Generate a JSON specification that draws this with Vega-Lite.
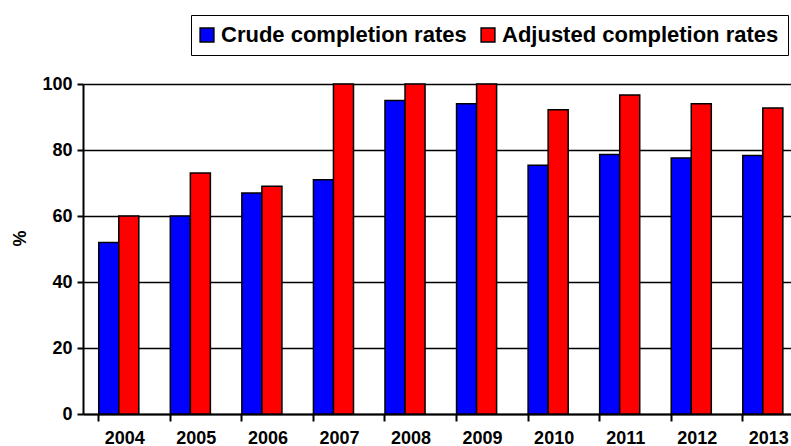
{
  "$schema": "https://vega.github.io/schema/vega-lite/v6.json",
  "autosize": {"type": "none"},
  "width": 708,
  "height": 330,
  "padding": {"left": 83, "top": 84, "right": 0, "bottom": 32},
  "background": "white",
  "config": {
    "view": {"stroke": null},
    "font": "Liberation Sans",
    "axis": {
      "labelFont": "Liberation Sans",
      "labelFontWeight": "bold",
      "labelFontSize": 18,
      "labelColor": "black",
      "domainColor": "black",
      "domainWidth": 2,
      "tickColor": "black",
      "tickWidth": 2,
      "titleFont": "Liberation Sans",
      "titleFontWeight": "bold",
      "titleColor": "black"
    }
  },
  "data": {
    "values": [
      {"year": "2004", "series": "Crude completion rates", "value": 52},
      {"year": "2004", "series": "Adjusted completion rates", "value": 60},
      {"year": "2005", "series": "Crude completion rates", "value": 60},
      {"year": "2005", "series": "Adjusted completion rates", "value": 73},
      {"year": "2006", "series": "Crude completion rates", "value": 67},
      {"year": "2006", "series": "Adjusted completion rates", "value": 69},
      {"year": "2007", "series": "Crude completion rates", "value": 71},
      {"year": "2007", "series": "Adjusted completion rates", "value": 100},
      {"year": "2008", "series": "Crude completion rates", "value": 95},
      {"year": "2008", "series": "Adjusted completion rates", "value": 100},
      {"year": "2009", "series": "Crude completion rates", "value": 94},
      {"year": "2009", "series": "Adjusted completion rates", "value": 100},
      {"year": "2010", "series": "Crude completion rates", "value": 75.4},
      {"year": "2010", "series": "Adjusted completion rates", "value": 92.2},
      {"year": "2011", "series": "Crude completion rates", "value": 78.6},
      {"year": "2011", "series": "Adjusted completion rates", "value": 96.7},
      {"year": "2012", "series": "Crude completion rates", "value": 77.6},
      {"year": "2012", "series": "Adjusted completion rates", "value": 94},
      {"year": "2013", "series": "Crude completion rates", "value": 78.3},
      {"year": "2013", "series": "Adjusted completion rates", "value": 92.7}
    ]
  },
  "mark": {"type": "bar", "stroke": "black", "strokeWidth": 1.5, "opacity": 1},
  "encoding": {
    "x": {
      "field": "year",
      "type": "nominal",
      "sort": null,
      "scale": {"range": [0, 715.6], "paddingInner": 0.44, "paddingOuter": 0.22},
      "axis": {
        "title": null,
        "labelAngle": 0,
        "bandPosition": 0,
        "labelOffset": 6,
        "tickSize": 7,
        "labelPadding": 8,
        "grid": false
      }
    },
    "xOffset": {
      "field": "series",
      "type": "nominal",
      "sort": ["Crude completion rates", "Adjusted completion rates"],
      "scale": {"paddingInner": 0, "paddingOuter": 0}
    },
    "y": {
      "field": "value",
      "type": "quantitative",
      "scale": {"domain": [0, 100], "nice": false},
      "axis": {
        "title": "%",
        "titleFontSize": 18,
        "titleAngle": -90,
        "titleX": -63,
        "titleY": 154,
        "titleBaseline": "middle",
        "titleAlign": "center",
        "values": [0, 20, 40, 60, 80, 100],
        "tickSize": 6,
        "labelPadding": 5,
        "grid": true,
        "gridColor": "black",
        "gridWidth": 1.5,
        "gridOpacity": 1
      }
    },
    "color": {
      "field": "series",
      "type": "nominal",
      "sort": ["Crude completion rates", "Adjusted completion rates"],
      "scale": {
        "domain": ["Crude completion rates", "Adjusted completion rates"],
        "range": ["#0000FF", "#FF0000"]
      },
      "legend": {
        "title": null,
        "orient": "none",
        "legendX": 108,
        "legendY": -69,
        "direction": "horizontal",
        "strokeColor": "black",
        "fillColor": "white",
        "padding": 9,
        "columnPadding": 11,
        "symbolOffset": -4,
        "labelOffset": 3,
        "labelFont": "Liberation Sans",
        "labelFontWeight": "bold",
        "labelFontSize": 22,
        "labelColor": "black",
        "labelLimit": 400,
        "symbolType": "square",
        "symbolSize": 190,
        "symbolStrokeColor": "black",
        "symbolStrokeWidth": 1.5,
        "symbolOpacity": 1
      }
    }
  }
}
